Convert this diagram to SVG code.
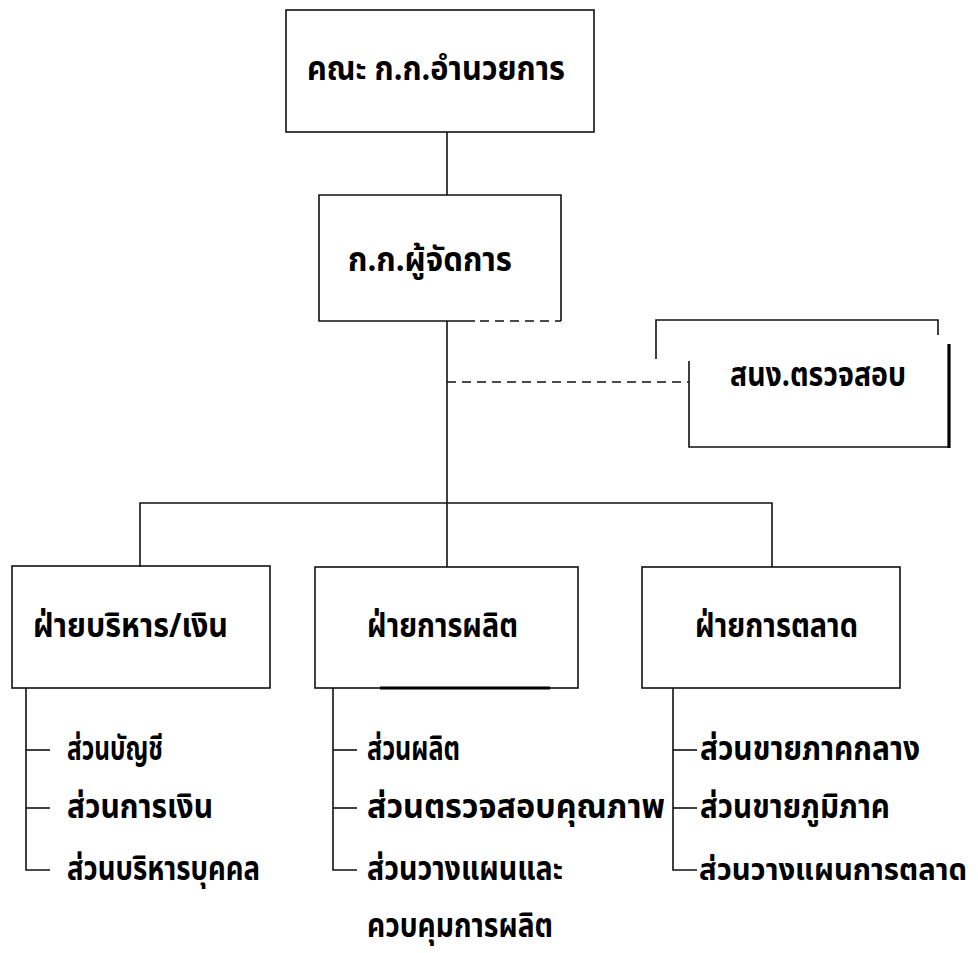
<svg xmlns="http://www.w3.org/2000/svg" width="978" height="953" viewBox="0 0 978 953">
<style>
.bx{fill:none;stroke:#111;stroke-width:1.6}
.ln{fill:none;stroke:#111;stroke-width:1.6}
.dash{fill:none;stroke:#111;stroke-width:1.6;stroke-dasharray:9 6}
.thk{fill:none;stroke:#000;stroke-width:3.2}
text{font-family:"Noto Sans Thai","Tlwg Typo","Loma","Garuda","DejaVu Sans","Noto Sans",sans-serif;font-weight:bold;font-size:34px;fill:#000}
</style>
<rect width="978" height="953" fill="#fff"/>
<g id="connectors">
<line class="ln" x1="447" y1="132" x2="447" y2="195"/>
<line class="ln" x1="447" y1="321" x2="447" y2="567"/>
<line class="dash" x1="447" y1="382" x2="689" y2="382"/>
<polyline class="ln" points="140,567 140,503 772,503 772,567"/>
<polyline class="ln" points="26,688 26,870 50,870"/>
<line class="ln" x1="26" y1="750" x2="50" y2="750"/>
<line class="ln" x1="26" y1="808" x2="50" y2="808"/>
<polyline class="ln" points="333,688 333,870 357,870"/>
<line class="ln" x1="333" y1="750" x2="357" y2="750"/>
<line class="ln" x1="333" y1="808" x2="357" y2="808"/>
<polyline class="ln" points="673,688 673,870 697,870"/>
<line class="ln" x1="673" y1="750" x2="697" y2="750"/>
<line class="ln" x1="673" y1="808" x2="697" y2="808"/>
</g>
<g id="board">
<rect class="bx" x="286" y="10" width="308" height="122"/>
<text x="307" y="80" textLength="258" lengthAdjust="spacingAndGlyphs">คณะ ก.ก.อำนวยการ</text>
</g>
<g id="manager">
<path class="ln" d="M475,321 H319 V195 H561 V321"/>
<line class="dash" x1="480" y1="321" x2="561" y2="321"/>
<text x="348" y="271" textLength="164" lengthAdjust="spacingAndGlyphs">ก.ก.ผู้จัดการ</text>
</g>
<g id="audit">
<path class="ln" d="M656,359 V320 H938 V335"/>
<path class="ln" d="M689,361 V447 H949"/>
<line class="thk" x1="949" y1="344" x2="949" y2="448"/>
<text x="730" y="386" textLength="176" lengthAdjust="spacingAndGlyphs">สนง.ตรวจสอบ</text>
</g>
<g id="admin">
<rect class="bx" x="12" y="566" width="258" height="122"/>
<text x="33" y="637" textLength="195" lengthAdjust="spacingAndGlyphs">ฝ่ายบริหาร/เงิน</text>
<text x="67" y="760" textLength="96" lengthAdjust="spacingAndGlyphs">ส่วนบัญชี</text>
<text x="67" y="818" textLength="146" lengthAdjust="spacingAndGlyphs">ส่วนการเงิน</text>
<text x="67" y="880" textLength="193" lengthAdjust="spacingAndGlyphs">ส่วนบริหารบุคคล</text>
</g>
<g id="production">
<rect class="bx" x="315" y="567" width="263" height="121"/>
<line class="thk" x1="380" y1="688" x2="550" y2="688"/>
<text x="367" y="637" textLength="151" lengthAdjust="spacingAndGlyphs">ฝ่ายการผลิต</text>
<text x="367" y="760" textLength="93" lengthAdjust="spacingAndGlyphs">ส่วนผลิต</text>
<text x="367" y="818" textLength="298" lengthAdjust="spacingAndGlyphs">ส่วนตรวจสอบคุณภาพ</text>
<text x="367" y="880" textLength="196" lengthAdjust="spacingAndGlyphs">ส่วนวางแผนและ</text>
<text x="367" y="937" textLength="186" lengthAdjust="spacingAndGlyphs">ควบคุมการผลิต</text>
</g>
<g id="marketing">
<rect class="bx" x="642" y="567" width="258" height="121"/>
<text x="695" y="637" textLength="163" lengthAdjust="spacingAndGlyphs">ฝ่ายการตลาด</text>
<text x="700" y="760" textLength="220" lengthAdjust="spacingAndGlyphs">ส่วนขายภาคกลาง</text>
<text x="700" y="818" textLength="190" lengthAdjust="spacingAndGlyphs">ส่วนขายภูมิภาค</text>
<text x="699" y="880" style="font-size:30px" textLength="268" lengthAdjust="spacingAndGlyphs">ส่วนวางแผนการตลาด</text>
</g>
</svg>
